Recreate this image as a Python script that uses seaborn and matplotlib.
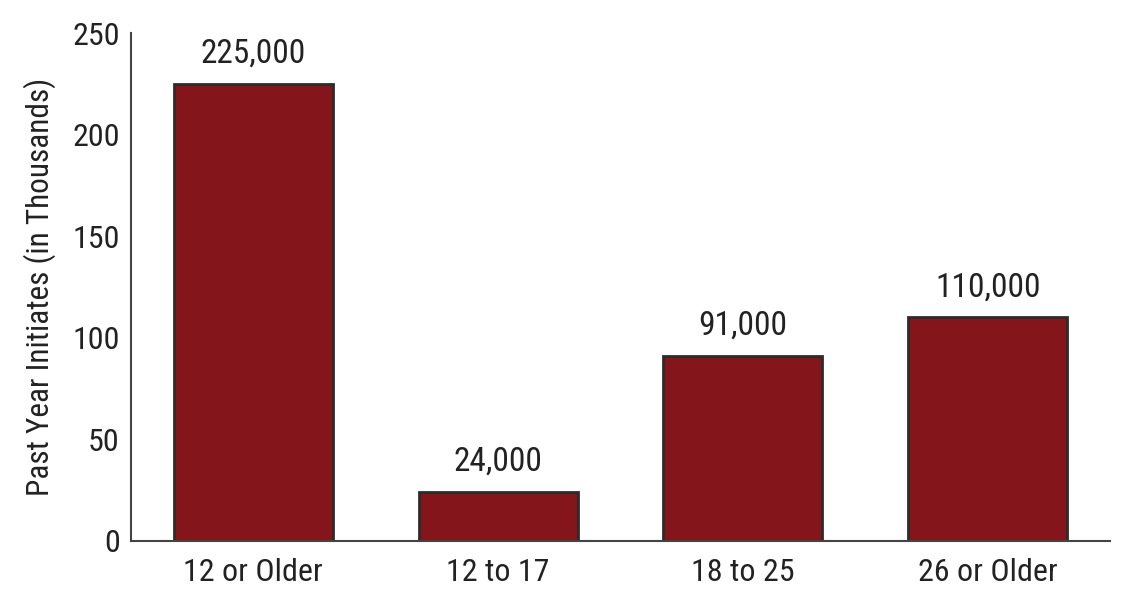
import matplotlib
matplotlib.use("Agg")
import matplotlib.pyplot as plt
from matplotlib import font_manager
import seaborn as sns
import pandas as pd

# Values (in thousands)
age_groups = ["12 or Older", "12 to 17", "18 to 25", "26 or Older"]
initiates = [225, 24, 91, 110]
bar_labels = ["225,000", "24,000", "91,000", "110,000"]
y_ticks = [0, 50, 100, 150, 200, 250]

df = pd.DataFrame({"group": age_groups, "initiates": initiates})

sns.set_style("white")
plt.rcParams["font.family"] = ["DejaVu Sans"]

# look for a narrow/condensed face, the reference uses a condensed sans
def find_condensed():
    prefs = ["liberation sans narrow", "roboto condensed", "open sans condensed",
             "noto sans", "dejavu sans", "arial narrow"]
    found = []
    for f in font_manager.fontManager.ttflist:
        narrow = ("narrow" in f.name.lower() or "condensed" in f.name.lower()
                  or "condensed" in str(f.stretch))
        if narrow and f.style == "normal" and f.weight in (400, "normal", "regular"):
            if "semi" in str(f.stretch) or "extra" in str(f.stretch):
                continue
            found.append(f)
    for p in prefs:
        for f in found:
            if f.name.lower().startswith(p):
                return f.fname
    return found[0].fname if found else None

cond = find_condensed()
if cond:
    fp = font_manager.FontProperties(fname=cond)
    scale = 1.0
else:
    fp = font_manager.FontProperties(family="DejaVu Sans")
    scale = 0.85

fig = plt.figure(figsize=(11.38, 6.08), dpi=100)
ax = fig.add_axes([0.1151, 0.1102, 0.8603, 0.8355])

sns.barplot(data=df, x="group", y="initiates", color="#84161b",
            saturation=1, width=0.65, edgecolor="#2b2b2b", linewidth=2, ax=ax)

for i, (v, lab) in enumerate(zip(initiates, bar_labels)):
    ax.text(i, v + 7, lab, ha="center", va="bottom", fontproperties=fp,
            fontsize=24 * scale, color="#222222")

ax.set_xlim(-0.5, 3.5)
ax.set_ylim(0, 250)
ax.set_yticks(y_ticks)
ax.set_xticks(range(len(age_groups)))
ax.set_xticklabels(age_groups, fontproperties=fp, fontsize=23 * scale)
ax.set_yticklabels([str(t) for t in y_ticks], fontproperties=fp, fontsize=23 * scale)
ax.set_xlabel("")
ax.set_ylabel("Past Year Initiates (in Thousands)", fontproperties=fp,
              fontsize=22.5 * scale, color="#222222", labelpad=12)
ax.tick_params(axis="both", length=0, colors="#222222")
ax.tick_params(axis="x", pad=12)
ax.tick_params(axis="y", pad=8)

for side in ["top", "right"]:
    ax.spines[side].set_visible(False)
for side in ["left", "bottom"]:
    ax.spines[side].set_color("#444444")
    ax.spines[side].set_linewidth(1.5)

fig.savefig("out.png", dpi=100)
